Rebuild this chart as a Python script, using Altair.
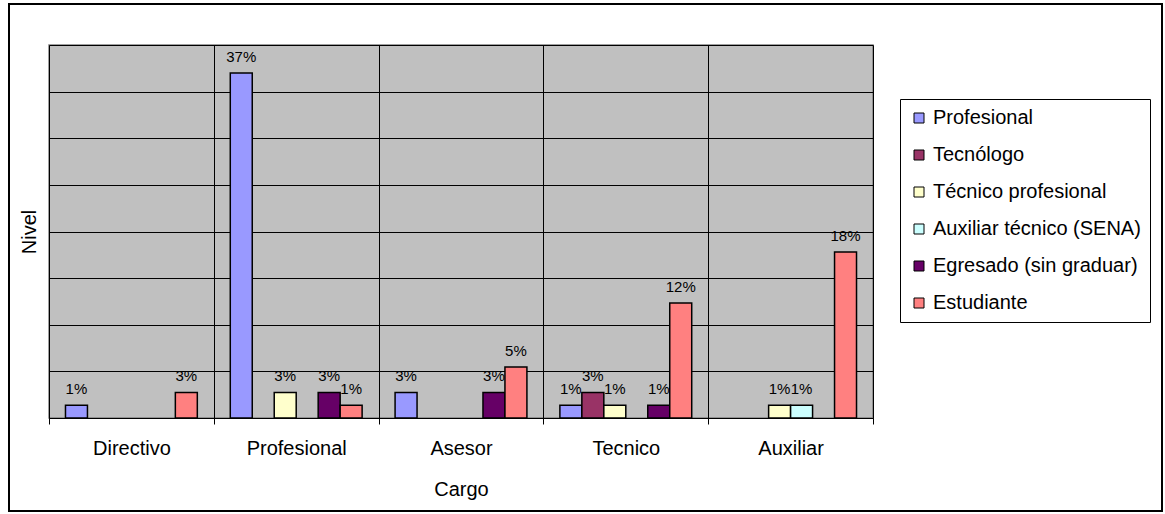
import altair as alt
import pandas as pd

cargos = ["Directivo", "Profesional", "Asesor", "Tecnico", "Auxiliar"]
niveles = ["Profesional", "Tecnólogo", "Técnico profesional",
           "Auxiliar técnico (SENA)", "Egresado (sin graduar)", "Estudiante"]
colores = ["#9999FF", "#993366", "#FFFFCC", "#CCFFFF", "#660066", "#FF8080"]

# share of respondents per cargo (columns follow `cargos`), None = no bar
profesional = [0.0137, 0.3699, 0.0274, 0.0137, None]
tecnologo = [None, None, None, 0.0274, None]
tecnico_prof = [None, 0.0274, None, 0.0137, 0.0137]
auxiliar_tec = [None, None, None, None, 0.0137]
egresado = [None, 0.0274, 0.0274, 0.0137, None]
estudiante = [0.0274, 0.0137, 0.0548, 0.1233, 0.1781]

series = [profesional, tecnologo, tecnico_prof, auxiliar_tec, egresado, estudiante]
rows = []
for nivel, vals in zip(niveles, series):
    for cargo, v in zip(cargos, vals):
        if v is not None:
            rows.append({"Cargo": cargo, "Nivel": nivel, "valor": v})
df = pd.DataFrame(rows)

FONT = "Liberation Sans"

x_enc = alt.X("Cargo:N", sort=cargos,
              scale=alt.Scale(paddingInner=0, paddingOuter=0),
              axis=alt.Axis(title="Cargo", labelAngle=0, tickBand="extent",
                            grid=True, gridColor="#000000", gridOpacity=1, gridWidth=1,
                            domainColor="#000000", tickColor="#000000", tickSize=6,
                            labelFontSize=20, labelPadding=14, labelColor="#000000",
                            titleFontSize=20, titleFontWeight="normal", titlePadding=21,
                            titleColor="#000000"))
xoff_scale = alt.Scale(domain=niveles, paddingInner=0, paddingOuter=0.75)
y_enc = alt.Y("valor:Q", scale=alt.Scale(domain=[0, 0.40], nice=False),
              axis=alt.Axis(title="Nivel", labels=False, ticks=False, domain=False,
                            grid=True, gridColor="#000000", gridOpacity=1, gridWidth=1,
                            values=[0, 0.05, 0.10, 0.15, 0.20, 0.25, 0.30, 0.35, 0.40],
                            titleFontSize=20, titleFontWeight="normal", titlePadding=10,
                            titleColor="#000000"))

bars = alt.Chart(df).mark_bar(stroke="#000000", strokeWidth=1.5).encode(
    x=x_enc, xOffset=alt.XOffset("Nivel:N", sort=niveles, scale=xoff_scale), y=y_enc,
    color=alt.Color("Nivel:N", sort=niveles,
                    scale=alt.Scale(domain=niveles, range=colores),
                    legend=alt.Legend(title=None, orient="none", legendX=851, legendY=54,
                                      symbolType="square", symbolSize=100,
                                      symbolStrokeColor="#000000", symbolStrokeWidth=1,
                                      labelFontSize=20, labelColor="#000000",
                                      rowPadding=17, padding=9, labelOffset=4,
                                      strokeColor="#000000", fillColor="#FFFFFF",
                                      labelLimit=400)),
)

labels = alt.Chart(df).mark_text(baseline="bottom", dy=-8, fontSize=15,
                                 color="#000000", font=FONT).encode(
    x=alt.X("Cargo:N", sort=cargos),
    xOffset=alt.XOffset("Nivel:N", sort=niveles, scale=xoff_scale),
    y="valor:Q",
    text=alt.Text("valor:Q", format=".0%"),
)

frame = alt.Chart(pd.DataFrame({"a": [0]})).mark_rect(
    fill=None, stroke="#000000", strokeWidth=2).encode(
    x=alt.value(-40), x2=alt.value(1113), y=alt.value(-41), y2=alt.value(466))

chart = alt.layer(bars, labels, frame).properties(
    width=824, height=373,
    autosize=alt.AutoSizeParams(type="none"),
    padding={"left": 49, "top": 45, "right": 292, "bottom": 96},
    background="#FFFFFF",
).configure(font=FONT).configure_view(
    fill="#C0C0C0", stroke="#808080", strokeWidth=1.5
)

chart.save("out.html", embed_options={"renderer": "svg", "actions": False})
